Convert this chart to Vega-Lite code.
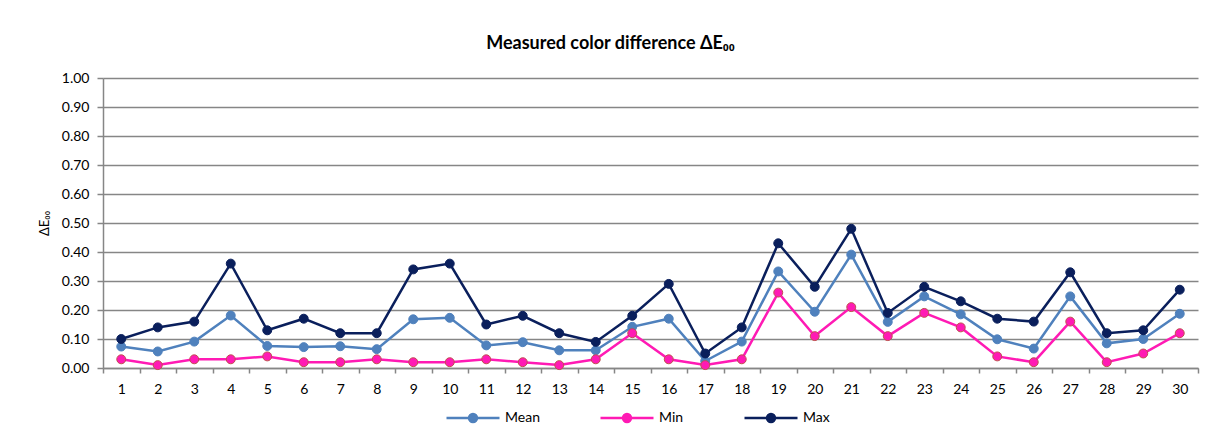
{
  "$schema": "https://vega.github.io/schema/vega-lite/v6.json",
  "width": 1095,
  "height": 290,
  "autosize": {"type": "none"},
  "padding": {"left": 103, "top": 78, "right": 16, "bottom": 64},
  "background": "white",
  "title": {
    "text": "Measured color difference ΔE₀₀",
    "font": "Lato",
    "fontSize": 18,
    "fontWeight": "bold",
    "color": "black",
    "anchor": "middle",
    "dx": -40,
    "offset": 18
  },
  "config": {
    "view": {"stroke": null},
    "font": "Lato"
  },
  "datasets": {
    "d": [
      {"sample": 1, "series": "Mean", "value": 0.074},
      {"sample": 2, "series": "Mean", "value": 0.057},
      {"sample": 3, "series": "Mean", "value": 0.091},
      {"sample": 4, "series": "Mean", "value": 0.181},
      {"sample": 5, "series": "Mean", "value": 0.076},
      {"sample": 6, "series": "Mean", "value": 0.072},
      {"sample": 7, "series": "Mean", "value": 0.075},
      {"sample": 8, "series": "Mean", "value": 0.065},
      {"sample": 9, "series": "Mean", "value": 0.168},
      {"sample": 10, "series": "Mean", "value": 0.173},
      {"sample": 11, "series": "Mean", "value": 0.078},
      {"sample": 12, "series": "Mean", "value": 0.089},
      {"sample": 13, "series": "Mean", "value": 0.061},
      {"sample": 14, "series": "Mean", "value": 0.061},
      {"sample": 15, "series": "Mean", "value": 0.142},
      {"sample": 16, "series": "Mean", "value": 0.170},
      {"sample": 17, "series": "Mean", "value": 0.024},
      {"sample": 18, "series": "Mean", "value": 0.091},
      {"sample": 19, "series": "Mean", "value": 0.333},
      {"sample": 20, "series": "Mean", "value": 0.194},
      {"sample": 21, "series": "Mean", "value": 0.391},
      {"sample": 22, "series": "Mean", "value": 0.159},
      {"sample": 23, "series": "Mean", "value": 0.247},
      {"sample": 24, "series": "Mean", "value": 0.185},
      {"sample": 25, "series": "Mean", "value": 0.099},
      {"sample": 26, "series": "Mean", "value": 0.067},
      {"sample": 27, "series": "Mean", "value": 0.247},
      {"sample": 28, "series": "Mean", "value": 0.085},
      {"sample": 29, "series": "Mean", "value": 0.100},
      {"sample": 30, "series": "Mean", "value": 0.187},
      {"sample": 1, "series": "Min", "value": 0.03},
      {"sample": 2, "series": "Min", "value": 0.01},
      {"sample": 3, "series": "Min", "value": 0.03},
      {"sample": 4, "series": "Min", "value": 0.03},
      {"sample": 5, "series": "Min", "value": 0.04},
      {"sample": 6, "series": "Min", "value": 0.02},
      {"sample": 7, "series": "Min", "value": 0.02},
      {"sample": 8, "series": "Min", "value": 0.03},
      {"sample": 9, "series": "Min", "value": 0.02},
      {"sample": 10, "series": "Min", "value": 0.02},
      {"sample": 11, "series": "Min", "value": 0.03},
      {"sample": 12, "series": "Min", "value": 0.02},
      {"sample": 13, "series": "Min", "value": 0.01},
      {"sample": 14, "series": "Min", "value": 0.03},
      {"sample": 15, "series": "Min", "value": 0.12},
      {"sample": 16, "series": "Min", "value": 0.03},
      {"sample": 17, "series": "Min", "value": 0.01},
      {"sample": 18, "series": "Min", "value": 0.03},
      {"sample": 19, "series": "Min", "value": 0.26},
      {"sample": 20, "series": "Min", "value": 0.11},
      {"sample": 21, "series": "Min", "value": 0.21},
      {"sample": 22, "series": "Min", "value": 0.11},
      {"sample": 23, "series": "Min", "value": 0.19},
      {"sample": 24, "series": "Min", "value": 0.14},
      {"sample": 25, "series": "Min", "value": 0.04},
      {"sample": 26, "series": "Min", "value": 0.02},
      {"sample": 27, "series": "Min", "value": 0.16},
      {"sample": 28, "series": "Min", "value": 0.02},
      {"sample": 29, "series": "Min", "value": 0.05},
      {"sample": 30, "series": "Min", "value": 0.12},
      {"sample": 1, "series": "Max", "value": 0.10},
      {"sample": 2, "series": "Max", "value": 0.14},
      {"sample": 3, "series": "Max", "value": 0.16},
      {"sample": 4, "series": "Max", "value": 0.36},
      {"sample": 5, "series": "Max", "value": 0.13},
      {"sample": 6, "series": "Max", "value": 0.17},
      {"sample": 7, "series": "Max", "value": 0.12},
      {"sample": 8, "series": "Max", "value": 0.12},
      {"sample": 9, "series": "Max", "value": 0.34},
      {"sample": 10, "series": "Max", "value": 0.36},
      {"sample": 11, "series": "Max", "value": 0.15},
      {"sample": 12, "series": "Max", "value": 0.18},
      {"sample": 13, "series": "Max", "value": 0.12},
      {"sample": 14, "series": "Max", "value": 0.09},
      {"sample": 15, "series": "Max", "value": 0.18},
      {"sample": 16, "series": "Max", "value": 0.29},
      {"sample": 17, "series": "Max", "value": 0.05},
      {"sample": 18, "series": "Max", "value": 0.14},
      {"sample": 19, "series": "Max", "value": 0.43},
      {"sample": 20, "series": "Max", "value": 0.28},
      {"sample": 21, "series": "Max", "value": 0.48},
      {"sample": 22, "series": "Max", "value": 0.19},
      {"sample": 23, "series": "Max", "value": 0.28},
      {"sample": 24, "series": "Max", "value": 0.23},
      {"sample": 25, "series": "Max", "value": 0.17},
      {"sample": 26, "series": "Max", "value": 0.16},
      {"sample": 27, "series": "Max", "value": 0.33},
      {"sample": 28, "series": "Max", "value": 0.12},
      {"sample": 29, "series": "Max", "value": 0.13},
      {"sample": 30, "series": "Max", "value": 0.27}
    ]
  },
  "data": {"name": "d"},
  "encoding": {
    "x": {
      "field": "sample",
      "type": "ordinal",
      "scale": {"type": "band", "paddingInner": 0, "paddingOuter": 0},
      "axis": {
        "title": null,
        "labelAngle": 0,
        "labelFont": "Lato",
        "labelFontSize": 14,
        "labelColor": "black",
        "labelPadding": 9,
        "domainColor": "#868686",
        "domainWidth": 1.5,
        "tickColor": "#868686",
        "tickWidth": 1.5,
        "tickSize": 5,
        "tickBand": "extent",
        "grid": false
      }
    },
    "y": {
      "field": "value",
      "type": "quantitative",
      "scale": {"domain": [0, 1], "nice": false},
      "axis": {
        "title": "ΔE₀₀",
        "titleFont": "Lato",
        "titleFontSize": 13,
        "titleFontWeight": "normal",
        "titleColor": "black",
        "titlePadding": 10,
        "values": [0, 0.1, 0.2, 0.3, 0.4, 0.5, 0.6, 0.7, 0.8, 0.9, 1.0],
        "format": ".2f",
        "labelFont": "Lato",
        "labelFontSize": 14,
        "labelColor": "black",
        "labelPadding": 8,
        "domainColor": "#868686",
        "domainWidth": 1.5,
        "tickColor": "#868686",
        "tickWidth": 1.5,
        "tickSize": 6,
        "grid": true,
        "gridColor": "#868686",
        "gridWidth": 1.5,
        "gridOpacity": 1
      }
    },
    "color": {
      "field": "series",
      "type": "nominal",
      "sort": ["Mean", "Min", "Max"],
      "scale": {"domain": ["Mean", "Min", "Max"], "range": ["#4F81BD", "#FF1AB4", "#0A1F5C"]},
      "legend": {
        "title": null,
        "orient": "none",
        "direction": "horizontal",
        "legendX": 342,
        "legendY": 312,
        "padding": 0,
        "columnPadding": 55,
        "symbolType": "M-1,0H1M0.15,0A0.15,0.15,0,1,1,-0.15,0A0.15,0.15,0,1,1,0.15,0Z",
        "symbolSize": 2809,
        "symbolStrokeWidth": 2.5,
        "labelFont": "Lato",
        "labelFontSize": 14,
        "labelColor": "black",
        "labelOffset": 4,
        "encode": {
          "symbols": {"update": {"fill": {"scale": "color", "field": "value"}, "fillOpacity": {"value": 1}}}
        }
      }
    }
  },
  "layer": [
    {"mark": {"type": "line", "strokeWidth": 2.5}},
    {
      "mark": {"type": "point", "filled": true, "size": 80, "opacity": 1, "strokeWidth": 1},
      "encoding": {
        "stroke": {
          "field": "series",
          "type": "nominal",
          "scale": {"domain": ["Mean", "Min", "Max"], "range": ["#4F81BD", "#C0504D", "#0A1F5C"]},
          "legend": null
        }
      }
    }
  ]
}
